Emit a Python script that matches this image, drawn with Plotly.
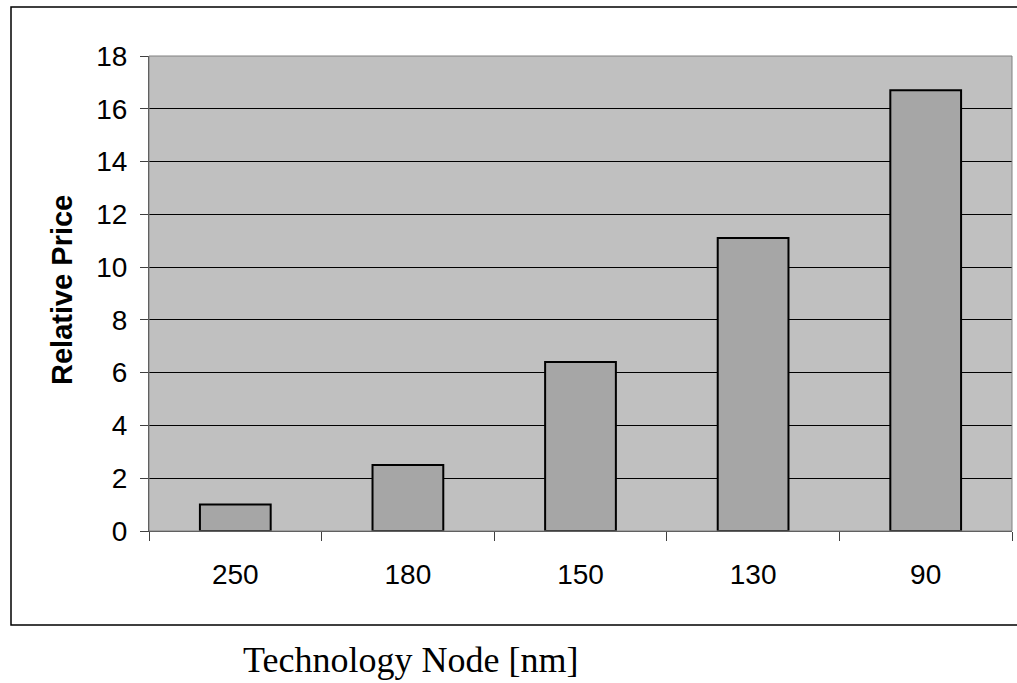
import plotly.graph_objects as go

# Relative price per technology node
nodes = ["250", "180", "150", "130", "90"]
relative_price = [1.0, 2.5, 6.4, 11.1, 16.7]

W, H = 1017, 683
L, R, T, B = 149, 5, 56, 152
pw, ph = W - L - R, H - T - B


def px_x(px):
    return (px - L) / pw


def px_y(py):
    return (H - B - py) / ph


fig = go.Figure(
    go.Bar(
        x=nodes,
        y=relative_price,
        marker=dict(color="#A6A6A6", line=dict(color="#000000", width=2)),
        hoverinfo="x+y",
    )
)

tick_font = dict(family="Liberation Sans, Arial, sans-serif", size=28, color="#000000")

fig.update_layout(
    width=W,
    height=H,
    margin=dict(l=L, r=R, t=T, b=B),
    paper_bgcolor="#FFFFFF",
    plot_bgcolor="#C0C0C0",
    bargap=0.59,
    showlegend=False,
    xaxis=dict(
        type="category",
        showgrid=False,
        showline=True,
        linecolor="#404040",
        linewidth=1,
        ticks="outside",
        tickson="boundaries",
        ticklen=9,
        tickcolor="#404040",
        tickfont=tick_font,
        ticklabelstandoff=18,
        zeroline=False,
    ),
    yaxis=dict(
        range=[0, 18],
        dtick=2,
        showgrid=True,
        gridcolor="#000000",
        gridwidth=1,
        showline=True,
        linecolor="#404040",
        linewidth=1,
        ticks="outside",
        ticklen=8,
        tickcolor="#404040",
        tickfont=tick_font,
        ticklabelstandoff=7,
        zeroline=False,
    ),
    shapes=[
        # plot area border
        dict(type="rect", xref="paper", yref="paper", x0=0, x1=1, y0=0, y1=1,
             line=dict(color="#808080", width=1), layer="above"),
        # outer chart frame (its right side runs past the page edge)
        dict(type="rect", xref="paper", yref="paper",
             x0=px_x(11), x1=px_x(1045), y0=px_y(625), y1=px_y(7),
             line=dict(color="#000000", width=1.5)),
    ],
    annotations=[
        dict(text="Relative Price", xref="paper", yref="paper",
             x=px_x(62), y=px_y(290), textangle=-90, showarrow=False,
             xanchor="center", yanchor="middle",
             font=dict(family="Liberation Sans, Arial, sans-serif", size=29,
                       color="#000000", weight="bold")),
        dict(text="Technology Node [nm]", xref="paper", yref="paper",
             x=px_x(410), y=px_y(660), showarrow=False,
             xanchor="center", yanchor="middle",
             font=dict(family="Liberation Serif, Times New Roman, serif", size=36,
                       color="#000000")),
    ],
)

fig.write_html("out.html")
